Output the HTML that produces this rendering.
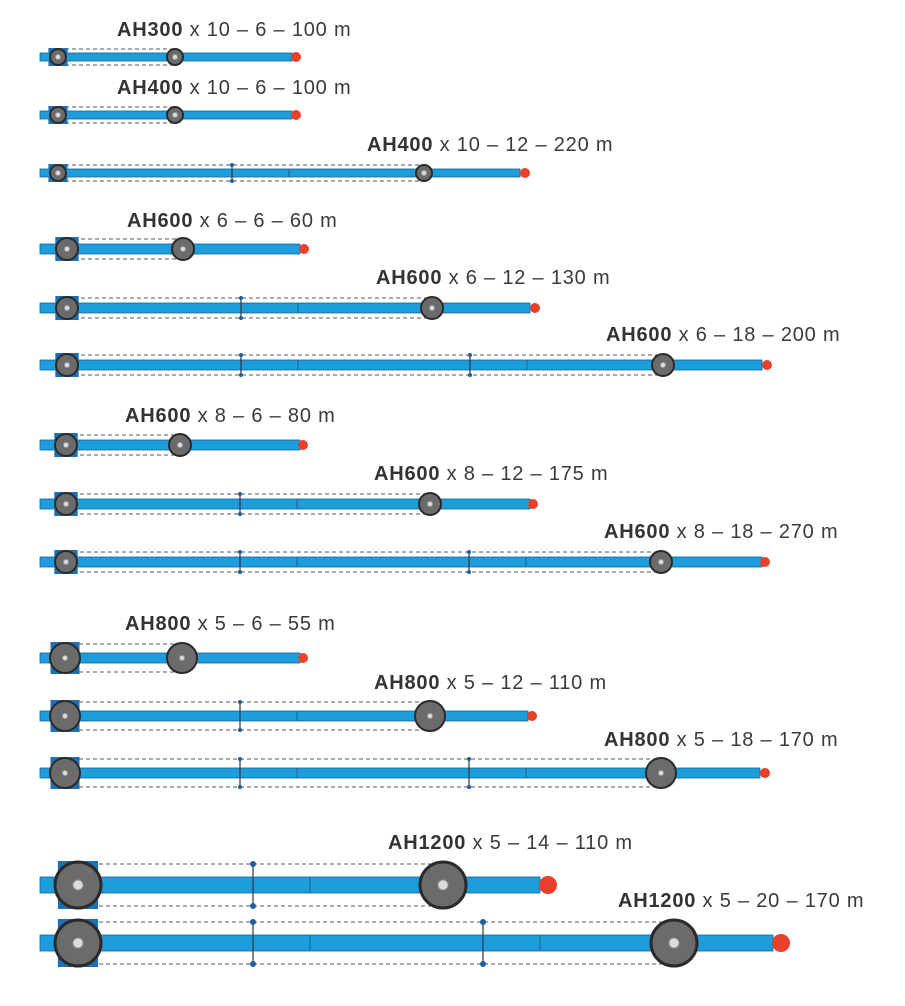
<!DOCTYPE html>
<html><head><meta charset="utf-8"><style>
html,body{margin:0;padding:0;background:#fff;width:905px;height:1006px;overflow:hidden}
svg{display:block}
text{font-family:"Liberation Sans","DejaVu Sans",sans-serif;font-size:20px;fill:#3a3a3a;letter-spacing:0.8px}
tspan.b{font-weight:bold;fill:#333}
</style></head><body>
<svg id="s" width="905" height="1006" xmlns="http://www.w3.org/2000/svg">
<g id="shapes"></g>
<text x="117" y="36"><tspan class="b">AH300</tspan> x 10 – 6 – 100 m</text>
<text x="117" y="94"><tspan class="b">AH400</tspan> x 10 – 6 – 100 m</text>
<text x="367" y="151"><tspan class="b">AH400</tspan> x 10 – 12 – 220 m</text>
<text x="127" y="227"><tspan class="b">AH600</tspan> x 6 – 6 – 60 m</text>
<text x="376" y="284"><tspan class="b">AH600</tspan> x 6 – 12 – 130 m</text>
<text x="606" y="341"><tspan class="b">AH600</tspan> x 6 – 18 – 200 m</text>
<text x="125" y="422"><tspan class="b">AH600</tspan> x 8 – 6 – 80 m</text>
<text x="374" y="480"><tspan class="b">AH600</tspan> x 8 – 12 – 175 m</text>
<text x="604" y="538"><tspan class="b">AH600</tspan> x 8 – 18 – 270 m</text>
<text x="125" y="630"><tspan class="b">AH800</tspan> x 5 – 6 – 55 m</text>
<text x="374" y="689"><tspan class="b">AH800</tspan> x 5 – 12 – 110 m</text>
<text x="604" y="746"><tspan class="b">AH800</tspan> x 5 – 18 – 170 m</text>
<text x="388" y="849"><tspan class="b">AH1200</tspan> x 5 – 14 – 110 m</text>
<text x="618" y="907"><tspan class="b">AH1200</tspan> x 5 – 20 – 170 m</text>
</svg>
<script>
var rows=[
[57,58,8,175,292,296,5,8,8,[]],
[115,58,8,175,292,296,5,8,8,[]],
[173,58,8,424,520,525,5,8,8,[232]],
[249,67,11,183,300,304,5,10,10,[]],
[308,67,11,432,530,535,5,10,10,[241]],
[365,67,11,663,762,767,5,10,10,[241,470]],
[445,66,11,180,300,303,5,10,10,[]],
[504,66,11,430,530,533,5,10,10,[240]],
[562,66,11,661,762,765,5,10,10,[240,469]],
[658,65,15,182,300,303,5,10,14,[]],
[716,65,15,430,528,532,5,10,14,[240]],
[773,65,15,661,760,765,5,10,14,[240,469]],
[885,78,23,443,540,548,9,16,21,[253]],
[943,78,23,674,773,781,9,16,21,[253,483]]
];
var h='';
rows.forEach(function(r){
 var y=r[0],w1=r[1],R=r[2],w2=r[3],e=r[4],rx=r[5],rr=r[6],bh=r[7],d=r[8],t=r[9];
 h+='<line x1="'+w1+'" y1="'+(y-d)+'" x2="'+w2+'" y2="'+(y-d)+'" stroke="#555" stroke-width="1" stroke-dasharray="4,3"/>';
 h+='<line x1="'+w1+'" y1="'+(y+d)+'" x2="'+w2+'" y2="'+(y+d)+'" stroke="#555" stroke-width="1" stroke-dasharray="4,3"/>';
 h+='<rect x="'+(w1-R*0.7-4)+'" y="'+(y-R-1)+'" width="'+(R*1.4+8)+'" height="'+(2*R+2)+'" fill="#1f6fb5"/>';
 h+='<rect x="40" y="'+(y-bh/2)+'" width="'+(e-40)+'" height="'+bh+'" fill="#1e9ddb" stroke="#16649a" stroke-width="0.8"/>';
 t.forEach(function(tx,i){
  h+='<line x1="'+tx+'" y1="'+(y-d)+'" x2="'+tx+'" y2="'+(y+d)+'" stroke="#334" stroke-width="1.2"/>';
  h+='<circle cx="'+tx+'" cy="'+(y-d)+'" r="'+(R>20?3:2)+'" fill="#1f5fa0"/><circle cx="'+tx+'" cy="'+(y+d)+'" r="'+(R>20?3:2)+'" fill="#1f5fa0"/>';
  var sx=tx+57;
  h+='<line x1="'+sx+'" y1="'+(y-bh/2)+'" x2="'+sx+'" y2="'+(y+bh/2)+'" stroke="#16649a" stroke-width="1"/>';
 });
 [w1,w2].forEach(function(cx){
  h+='<circle cx="'+cx+'" cy="'+y+'" r="'+R+'" fill="#6b6b6b" stroke="#2a2a2a" stroke-width="'+(R>20?3:2)+'"/>';
  h+='<circle cx="'+cx+'" cy="'+y+'" r="'+(R>20?5:2.5)+'" fill="#ddd" stroke="#999" stroke-width="1"/>';
 });
 h+='<circle cx="'+rx+'" cy="'+y+'" r="'+rr+'" fill="#e8402a"/>';
});
document.getElementById('shapes').innerHTML=h;
</script>
</body></html>
